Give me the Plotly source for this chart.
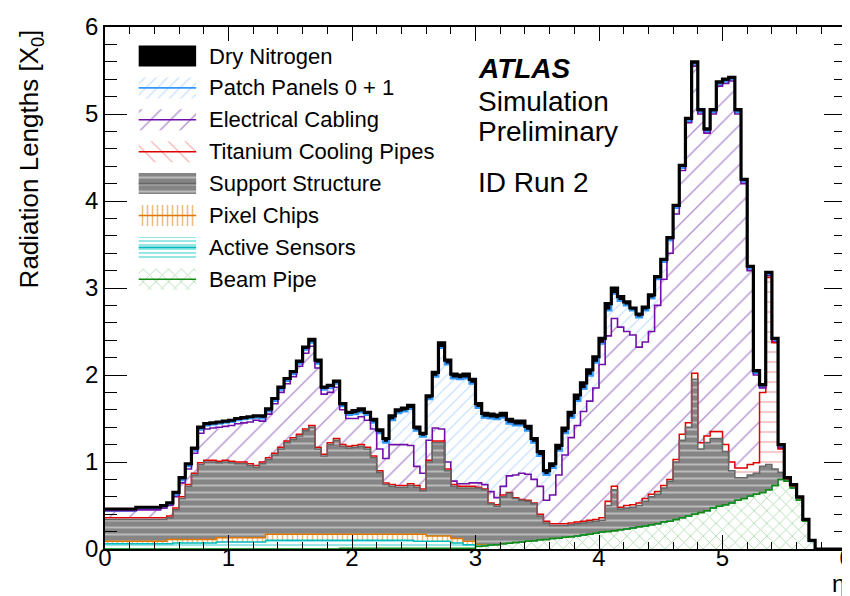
import numpy as np
import plotly.graph_objects as go

# eta bin edges (120 bins of 0.05)
ETA_EDGES = np.round(np.linspace(0.0, 6.0, 121), 2)

BEAM_PIPE = [
    0, 0, 0, 0, 0, 0, 0, 0, 0, 0,
    0, 0, 0, 0, 0, 0, 0, 0, 0, 0,
    0, 0, 0, 0, 0, 0, 0, 0, 0, 0,
    0, 0, 0, 0, 0, 0, 0, 0, 0.01, 0.01,
    0.01, 0.01, 0.01, 0.01, 0.01, 0.01, 0.01, 0.01, 0.01, 0.01,
    0.01, 0.01, 0.01, 0.01, 0.01, 0.01, 0.01, 0.01, 0.01, 0.01,
    0.03, 0.035, 0.045, 0.05, 0.06, 0.065, 0.075, 0.08, 0.09, 0.095,
    0.105, 0.11, 0.12, 0.125, 0.135, 0.14, 0.15, 0.16, 0.17, 0.18,
    0.195, 0.20, 0.21, 0.22, 0.23, 0.24, 0.255, 0.265, 0.28, 0.29,
    0.31, 0.32, 0.34, 0.36, 0.38, 0.40, 0.42, 0.44, 0.47, 0.49,
    0.51, 0.53, 0.56, 0.58, 0.61, 0.63, 0.65, 0.68, 0.73, 0.80,
    0.78, 0.70, 0.56, 0.32, 0.09, 0, 0, 0, 0, 0,
]

ACTIVE_SENSORS = [
    0.06, 0.06, 0.06, 0.06, 0.06, 0.06, 0.06, 0.06, 0.06, 0.06,
    0.06, 0.07, 0.07, 0.07, 0.07, 0.07, 0.07, 0.07, 0.08, 0.08,
    0.08, 0.08, 0.08, 0.08, 0.08, 0.08, 0.10, 0.10, 0.10, 0.10,
    0.10, 0.10, 0.10, 0.10, 0.10, 0.10, 0.10, 0.10, 0.09, 0.09,
    0.09, 0.09, 0.09, 0.09, 0.09, 0.09, 0.09, 0.09, 0.09, 0.09,
    0.08, 0.08, 0.08, 0.08, 0.08, 0.08, 0.06, 0.06, 0.04, 0.04,
    0.005, 0.005, 0, 0, 0, 0, 0, 0, 0, 0,
    0, 0, 0, 0, 0, 0, 0, 0, 0, 0,
    0, 0, 0, 0, 0, 0, 0, 0, 0, 0,
    0, 0, 0, 0, 0, 0, 0, 0, 0, 0,
    0, 0, 0, 0, 0, 0, 0, 0, 0, 0,
    0, 0, 0, 0, 0, 0, 0, 0, 0, 0,
]

PIXEL_CHIPS = [
    0.03, 0.03, 0.03, 0.03, 0.03, 0.03, 0.03, 0.03, 0.03, 0.03,
    0.05, 0.04, 0.04, 0.04, 0.04, 0.04, 0.04, 0.04, 0.05, 0.05,
    0.05, 0.05, 0.05, 0.05, 0.05, 0.05, 0.07, 0.07, 0.07, 0.07,
    0.07, 0.07, 0.07, 0.07, 0.07, 0.07, 0.07, 0.07, 0.07, 0.07,
    0.07, 0.07, 0.07, 0.07, 0.07, 0.07, 0.07, 0.07, 0.07, 0.07,
    0.08, 0.08, 0.06, 0.06, 0.06, 0.06, 0.05, 0.05, 0.04, 0.04,
    0.015, 0.01, 0, 0, 0, 0, 0, 0, 0, 0,
    0, 0, 0, 0, 0, 0, 0, 0, 0, 0,
    0, 0, 0, 0, 0, 0, 0, 0, 0, 0,
    0, 0, 0, 0, 0, 0, 0, 0, 0, 0,
    0, 0, 0, 0, 0, 0, 0, 0, 0, 0,
    0, 0, 0, 0, 0, 0, 0, 0, 0, 0,
]

SUPPORT_STRUCTURE = [
    0.25, 0.25, 0.25, 0.25, 0.25, 0.25, 0.25, 0.25, 0.25, 0.25,
    0.25, 0.34, 0.47, 0.61, 0.74, 0.86, 0.89, 0.89, 0.86, 0.87,
    0.86, 0.85, 0.85, 0.83, 0.81, 0.85, 0.86, 0.91, 0.98, 1.05,
    1.09, 1.13, 1.19, 1.23, 0.98, 0.90, 1.03, 1.08, 1.01, 0.99,
    1.00, 1.01, 0.98, 0.88, 0.71, 0.57, 0.55, 0.54, 0.54, 0.56,
    0.54, 0.50, 0.85, 1.07, 1.07, 0.75, 0.60, 0.58, 0.61, 0.61,
    0.65, 0.63, 0.475, 0.44, 0.54, 0.575, 0.505, 0.48, 0.46, 0.425,
    0.275, 0.19, 0.15, 0.145, 0.135, 0.14, 0.14, 0.14, 0.14, 0.14,
    0.135, 0.30, 0.47, 0.24, 0.24, 0.24, 0.245, 0.285, 0.32, 0.34,
    0.39, 0.46, 0.66, 0.89, 1.02, 1.55, 0.73, 0.78, 0.80, 0.78,
    0.61, 0.37, 0.26, 0.24, 0.24, 0.24, 0.30, 0.29, 0.19, 0.08,
    0.01, 0.01, 0.01, 0.005, 0, 0, 0, 0, 0, 0,
]

TITANIUM_PIPES = [
    0.02, 0.02, 0.02, 0.02, 0.02, 0.02, 0.02, 0.02, 0.02, 0.02,
    0.02, 0.02, 0.02, 0.02, 0.02, 0.02, 0.02, 0.02, 0.02, 0.02,
    0.02, 0.02, 0.02, 0.02, 0.02, 0.02, 0.02, 0.02, 0.02, 0.02,
    0.02, 0.02, 0.02, 0.02, 0.02, 0.02, 0.02, 0.02, 0.02, 0.02,
    0.02, 0.02, 0.02, 0.02, 0.02, 0.02, 0.02, 0.02, 0.02, 0.02,
    0.02, 0.02, 0.02, 0.02, 0.02, 0.02, 0.02, 0.02, 0.02, 0.02,
    0.01, 0.01, 0.01, 0.02, 0.02, 0.01, 0.01, 0.01, 0.01, 0.01,
    0.02, 0.02, 0.02, 0.02, 0.02, 0.02, 0.02, 0.02, 0.02, 0.02,
    0.03, 0.05, 0.04, 0.02, 0.03, 0.03, 0.03, 0.03, 0.03, 0.03,
    0.03, 0.02, 0.03, 0.07, 0.05, 0.07, 0.07, 0.08, 0.08, 0.08,
    0.08, 0.10, 0.11, 0.11, 0.12, 0.12, 0.85, 2.15, 1.45, 0.27,
    0.01, 0.01, 0.01, 0.005, 0, 0, 0, 0, 0, 0,
]

ELECTRICAL_CABLING = [
    0.08, 0.08, 0.08, 0.08, 0.08, 0.09, 0.09, 0.09, 0.09, 0.11,
    0.12, 0.13, 0.16, 0.18, 0.23, 0.34, 0.36, 0.37, 0.39, 0.39,
    0.41, 0.44, 0.45, 0.48, 0.52, 0.47, 0.50, 0.57, 0.63, 0.66,
    0.70, 0.78, 0.87, 0.91, 0.91, 0.69, 0.58, 0.59, 0.40, 0.32,
    0.31, 0.32, 0.31, 0.31, 0.25, 0.28, 0.46, 0.47, 0.47, 0.44,
    0.22, 0.18, 0.23, 0.15, 0.14, 0.08, 0.04, 0.03, 0.03, 0.04,
    0.05, 0.05, 0.13, 0.08, 0.10, 0.19, 0.26, 0.30, 0.30, 0.27,
    0.32, 0.24, 0.33, 0.56, 0.79, 0.98, 1.11, 1.26, 1.37, 1.51,
    1.76, 1.90, 1.93, 2.07, 2.00, 1.95, 1.79, 1.80, 1.87, 2.14,
    2.37, 2.60, 2.82, 3.03, 3.45, 3.53, 3.78, 3.48, 3.65, 3.97,
    4.15, 4.38, 4.07, 3.27, 2.23, 1.01, 0.05, 0.02, 0.01, 0.01,
    0, 0, 0, 0, 0, 0, 0, 0, 0, 0,
]

PATCH_PANELS = [
    0, 0, 0, 0, 0, 0.01, 0.01, 0.01, 0.01, 0.01,
    0.01, 0.02, 0.03, 0.03, 0.03, 0.04, 0.04, 0.04, 0.04, 0.04,
    0.04, 0.04, 0.04, 0.04, 0.03, 0.03, 0.03, 0.03, 0.03, 0.03,
    0.03, 0.03, 0.04, 0.04, 0.05, 0.05, 0.05, 0.04, 0.04, 0.04,
    0.05, 0.05, 0.06, 0.07, 0.18, 0.18, 0.28, 0.36, 0.38, 0.42,
    0.41, 0.42, 0.47, 0.59, 0.93, 1.12, 1.18, 1.20, 1.21, 1.14,
    0.86, 0.77, 0.84, 0.90, 0.79, 0.60, 0.57, 0.55, 0.50, 0.42,
    0.35, 0.29, 0.31, 0.28, 0.25, 0.23, 0.28, 0.26, 0.29, 0.29,
    0.24, 0.29, 0.28, 0.30, 0.30, 0.28, 0.34, 0.36, 0.38, 0.30,
    0.20, 0.15, 0.07, 0.03, 0.02, 0.02, 0.02, 0.02, 0.02, 0.02,
    0.02, 0.02, 0.02, 0.02, 0.02, 0.02, 0.01, 0.01, 0.01, 0.01,
    0, 0, 0, 0, 0, 0, 0, 0, 0, 0,
]

DRY_NITROGEN = [
    0.02, 0.02, 0.02, 0.02, 0.02, 0.02, 0.02, 0.02, 0.02, 0.02,
    0.02, 0.03, 0.03, 0.03, 0.03, 0.03, 0.02, 0.02, 0.02, 0.02,
    0.02, 0.02, 0.02, 0.02, 0.02, 0.03, 0.03, 0.03, 0.03, 0.03,
    0.03, 0.03, 0.03, 0.04, 0.04, 0.03, 0.03, 0.03, 0.03, 0.03,
    0.04, 0.04, 0.03, 0.04, 0.04, 0.05, 0.05, 0.04, 0.04, 0.04,
    0.04, 0.04, 0.04, 0.05, 0.06, 0.05, 0.05, 0.05, 0.05, 0.05,
    0.05, 0.05, 0.05, 0.05, 0.05, 0.05, 0.05, 0.05, 0.05, 0.05,
    0.05, 0.05, 0.05, 0.06, 0.06, 0.06, 0.07, 0.07, 0.07, 0.07,
    0.06, 0.08, 0.07, 0.05, 0.04, 0.03, 0.04, 0.04, 0.04, 0.03,
    0.03, 0.03, 0.03, 0.03, 0.03, 0.03, 0.03, 0.03, 0.03, 0.03,
    0.03, 0.02, 0.03, 0.03, 0.03, 0.03, 0.03, 0.03, 0.03, 0.03,
    0.02, 0.02, 0.02, 0.01, 0.01, 0, 0, 0, 0, 0,
]

X_TICKS = [0, 1, 2, 3, 4, 5, 6]
Y_TICKS = [0, 1, 2, 3, 4, 5, 6]

FONT = "Liberation Sans, Arial, Helvetica, sans-serif"

# (name, values, line colour, line width, fill pattern, solid fill, legend pattern)
LAYERS = [
    ("Beam Pipe", BEAM_PIPE, "#138a13", 1.5,
     dict(shape="x", fgcolor="#5cb45c", size=9, solidity=0.18), None, None),
    ("Active Sensors", ACTIVE_SENSORS, "#00bcbc", 1.5,
     dict(shape="-", fgcolor="#19c8c8", size=4, solidity=0.45), None, None),
    ("Pixel Chips", PIXEL_CHIPS, "#e07800", 1.5,
     dict(shape="|", fgcolor="#e07800", size=5, solidity=0.3), None, None),
    ("Support Structure", SUPPORT_STRUCTURE, "#666666", 1.5,
     dict(shape="-", fgcolor="#f2f2f2", bgcolor="#858585", size=7, solidity=0.28), None, None),
    ("Titanium Cooling Pipes", TITANIUM_PIPES, "#e00000", 1.5,
     dict(shape="-", fgcolor="#e85050", size=10, solidity=0.12), None,
     dict(shape="\\", fgcolor="#e85050", size=12, solidity=0.1)),
    ("Electrical Cabling", ELECTRICAL_CABLING, "#7010a8", 1.6,
     dict(shape="/", fgcolor="#6c28aa", size=14, solidity=0.1), None, None),
    ("Patch Panels 0 + 1", PATCH_PANELS, "#3399ff", 2.0,
     dict(shape="/", fgcolor="#94c6ff", size=8, solidity=0.17), None, None),
    ("Dry Nitrogen", DRY_NITROGEN, "black", 3.2,
     None, "black", None),
]

fig = go.Figure()
fig.add_trace(go.Scatter(
    x=ETA_EDGES, y=np.zeros(len(ETA_EDGES)), mode="lines",
    line=dict(width=0, shape="hv"), showlegend=False, hoverinfo="skip"))

# stacked fills, bottom -> top
cum = np.zeros(len(BEAM_PIPE))
tops = []
for name, vals, lcol, lw, patt, fcol, lpatt in LAYERS:
    cum = cum + np.asarray(vals, dtype=float)
    y = np.append(cum, cum[-1])
    tops.append((name, y, lcol, lw))
    kw = dict(
        x=ETA_EDGES, y=y, mode="lines", name=name, showlegend=False,
        line=dict(color=lcol, width=0, shape="hv"), fill="tonexty",
        hoverinfo="skip",
    )
    if patt is not None:
        kw["fillpattern"] = patt
        kw["fillcolor"] = "rgba(255,255,255,0)"
    else:
        kw["fillcolor"] = fcol
    fig.add_trace(go.Scatter(**kw))

# outlines: inner layers drawn from the top of the stack down (lower layers on
# top of coinciding upper ones), the overall Dry Nitrogen outline last
line_order = list(reversed(tops[:-1])) + [tops[-1]]
for name, y, lcol, lw in line_order:
    fig.add_trace(go.Scatter(
        x=ETA_EDGES, y=y, mode="lines", name=name, showlegend=False,
        line=dict(color=lcol, width=lw, shape="hv")))

# ---- legend drawn on an overlay axis measured in pixels of the plot area ----
LEG_X0, LEG_X1, LEG_TEXT_X = 131, 189, 200
LEG_TOP, LEG_STEP, LEG_H = 48, 31.9, 21
for i, (name, vals, lcol, lw, patt, fcol, lpatt) in enumerate(reversed(LAYERS)):
    yc = LEG_TOP + i * LEG_STEP
    box = dict(
        x=[LEG_X0, LEG_X1, LEG_X1, LEG_X0, LEG_X0],
        y=[yc - LEG_H / 2, yc - LEG_H / 2, yc + LEG_H / 2, yc + LEG_H / 2, yc - LEG_H / 2],
        mode="lines", fill="toself", line=dict(width=0),
        xaxis="x2", yaxis="y2", showlegend=False, hoverinfo="skip",
    )
    if patt is not None:
        box["fillpattern"] = lpatt if lpatt is not None else patt
        box["fillcolor"] = "rgba(255,255,255,0)"
    else:
        box["fillcolor"] = fcol
    fig.add_trace(go.Scatter(**box))
    if patt is not None:
        fig.add_trace(go.Scatter(
            x=[LEG_X0, LEG_X1], y=[yc, yc], mode="lines",
            line=dict(color=lcol, width=1.6), xaxis="x2", yaxis="y2",
            showlegend=False, hoverinfo="skip"))
    fig.add_annotation(text=name, x=LEG_TEXT_X, y=yc, xref="x2", yref="y2",
                       xanchor="left", yanchor="middle", showarrow=False,
                       font=dict(family=FONT, size=22, color="black"))

axis_common = dict(
    showline=True, linecolor="black", linewidth=1.5, mirror="allticks",
    ticks="inside", tickcolor="black", showgrid=False, zeroline=False,
    tickfont=dict(family=FONT, size=24, color="black"),
)
xaxis = dict(range=[0, 6], tickvals=X_TICKS, ticklen=14, ticklabelstandoff=-14,
             minor=dict(dtick=0.2, ticklen=7, ticks="inside", tickcolor="black"),
             **axis_common)
yaxis = dict(range=[0, 6], tickvals=Y_TICKS, ticklen=22,
             minor=dict(dtick=0.2, ticklen=12, ticks="inside", tickcolor="black"),
             **axis_common)

ann = [
    dict(text="<b><i>ATLAS</i></b>", y=0.920),
    dict(text="Simulation", y=0.857),
    dict(text="Preliminary", y=0.799),
    dict(text="ID Run 2", y=0.703),
]
for a in ann:
    fig.add_annotation(text=a["text"], x=0.501, y=a["y"], xref="paper", yref="paper",
                       xanchor="left", yanchor="middle", showarrow=False,
                       font=dict(family=FONT, size=28, color="black"))

fig.add_annotation(text="Radiation Lengths [X<sub>0</sub>]", textangle=-90,
                   x=-0.1, y=1.0, xref="paper", yref="paper",
                   xanchor="center", yanchor="top", showarrow=False,
                   font=dict(family=FONT, size=26, color="black"))
fig.add_annotation(text="η", x=0.99, y=-0.066, xref="paper", yref="paper",
                   xanchor="center", yanchor="middle", showarrow=False,
                   font=dict(family=FONT, size=24, color="black"))

fig.update_layout(
    width=850, height=596,
    margin=dict(l=97, r=5, t=19, b=55),
    paper_bgcolor="white", plot_bgcolor="white",
    showlegend=False,
    xaxis=xaxis, yaxis=yaxis,
    xaxis2=dict(overlaying="x", range=[97, 845], visible=False, fixedrange=True),
    yaxis2=dict(overlaying="y", range=[541, 19], visible=False, fixedrange=True),
    font=dict(family=FONT),
)

fig.write_html("out.html")
